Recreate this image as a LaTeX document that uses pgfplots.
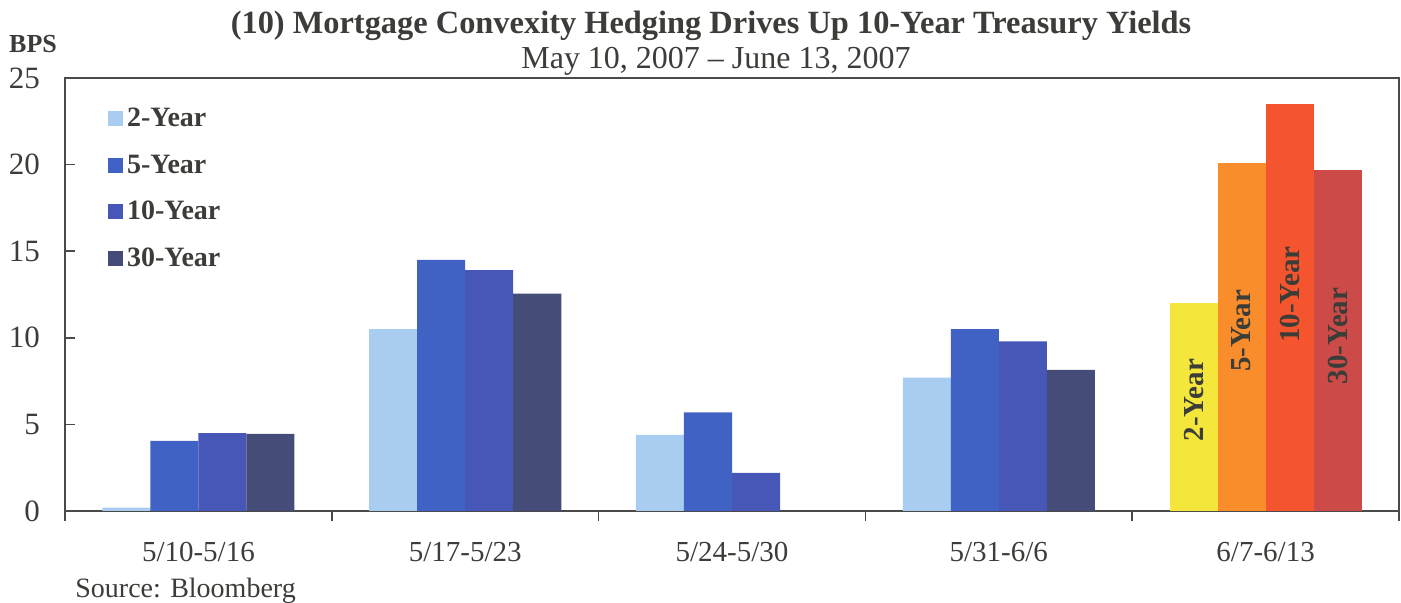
\documentclass[border=0pt]{standalone}
\usepackage{pgfplots}
\pgfplotsset{compat=1.18}
\usepackage{fontspec}
\setmainfont{Liberation Serif}

\definecolor{textc}{HTML}{3A3D38}
\definecolor{axisc}{HTML}{4A4A4A}
\definecolor{twoY}{HTML}{A9CDF0}
\definecolor{fiveY}{HTML}{3F62C4}
\definecolor{tenY}{HTML}{4757B8}
\definecolor{thirtyY}{HTML}{454C78}
\definecolor{lastTwo}{HTML}{F4E63A}
\definecolor{lastFive}{HTML}{F98C2B}
\definecolor{lastTen}{HTML}{F4552F}
\definecolor{lastThirty}{HTML}{CC4A48}

\begin{document}
\begin{tikzpicture}
\useasboundingbox (-32.5pt,-46pt) rectangle (668pt,255.5pt);
\begin{axis}[
  at={(0pt,0pt)}, anchor=south west,
  scale only axis, width=667pt, height=216.5pt,
  ymin=0, ymax=25, ytick={0,5,...,25},
  xmin=-0.5, xmax=4.5,
  xtick={-0.5,0.5,...,4.5},
  x tick label as interval,
  xticklabels={5/10-5/16,5/17-5/23,5/24-5/30,5/31-6/6,6/7-6/13},
  tick pos=left,
  xtick align=outside, ytick align=inside,
  major tick length=5pt,
  tick style={draw=axisc, line width=0.8pt},
  axis line style={draw=axisc, line width=1pt},
  /pgf/number format/assume math mode=true,
  yticklabel style={font=\fontsize{15.5}{18}\selectfont, text=textc, xshift=-9pt},
  xticklabel style={font=\fontsize{14.5}{17}\selectfont, text=textc, yshift=-7pt},
  legend cell align=left,
  legend style={at={(0.032,0.94)}, anchor=north west, draw=none, fill=none,
    inner sep=0pt, row sep=8.5pt,
    font=\bfseries\fontsize{14}{16}\selectfont, text=textc},
  legend image code/.code={\draw[#1,draw=none] (0pt,-3.5pt) rectangle (7.5pt,4pt);},
]
% weekly yield changes, blue family
\addplot[ybar, bar width=0.18, bar shift=-0.27, fill=twoY, draw=none]
  coordinates {(0,0.2) (1,10.5) (2,4.4) (3,7.7)};
\addplot[ybar, bar width=0.18, bar shift=-0.09, fill=fiveY, draw=none]
  coordinates {(0,4.05) (1,14.5) (2,5.7) (3,10.5)};
\addplot[ybar, bar width=0.18, bar shift=0.09, fill=tenY, draw=none]
  coordinates {(0,4.5) (1,13.9) (2,2.2) (3,9.8)};
\addplot[ybar, bar width=0.18, bar shift=0.27, fill=thirtyY, draw=none]
  coordinates {(0,4.45) (1,12.55) (2,0) (3,8.15)};
\legend{2-Year,5-Year,10-Year,30-Year}
% highlighted final week
\addplot[ybar, bar width=0.18, bar shift=-0.27, fill=lastTwo, draw=none, forget plot]
  coordinates {(4,12.0)};
\addplot[ybar, bar width=0.18, bar shift=-0.09, fill=lastFive, draw=none, forget plot]
  coordinates {(4,20.1)};
\addplot[ybar, bar width=0.18, bar shift=0.09, fill=lastTen, draw=none, forget plot]
  coordinates {(4,23.5)};
\addplot[ybar, bar width=0.18, bar shift=0.27, fill=lastThirty, draw=none, forget plot]
  coordinates {(4,19.7)};
\begin{scope}[every node/.style={rotate=90, font=\bfseries\fontsize{14.5}{16}\selectfont, text=textc, inner sep=0pt}]
\node at (axis cs:3.73,6.4) {2-Year};
\node at (axis cs:3.91,10.4) {5-Year};
\node at (axis cs:4.09,12.5) {10-Year};
\node at (axis cs:4.27,10.1) {30-Year};
\end{scope}
\end{axis}
\node[font=\bfseries\fontsize{16.2}{18}\selectfont, text=textc] at (323pt,242.5pt)
  {(10) Mortgage Convexity Hedging Drives Up 10-Year Treasury Yields};
\node[font=\fontsize{16}{18}\selectfont, text=textc] at (325.5pt,225pt)
  {May 10, 2007 -- June 13, 2007};
\node[font=\bfseries\fontsize{13}{15}\selectfont, text=textc] at (-16pt,233.5pt) {BPS};
\node[font=\fontsize{14}{16}\selectfont, text=textc, anchor=west, inner sep=0pt] at (5pt,-40pt)
  {Source: Bloomberg};
\end{tikzpicture}
\end{document}
